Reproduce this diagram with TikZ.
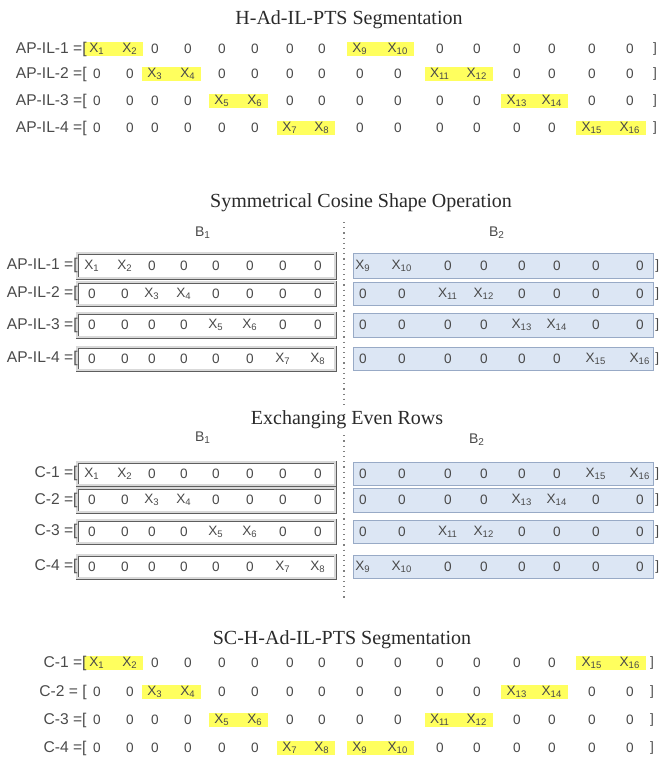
\documentclass[tikz,border=0pt]{standalone}
\usepackage{fontspec}
\setmainfont{Liberation Serif}
\setsansfont{Liberation Sans}
\usetikzlibrary{fit,backgrounds}
\definecolor{txtgray}{HTML}{4A4A4A}
\definecolor{ttlgray}{HTML}{2A2A2A}
\definecolor{hlyellow}{HTML}{FFFF5E}
\definecolor{boxgray}{HTML}{5E5E5E}
\definecolor{bluefill}{HTML}{DCE6F4}
\definecolor{blueline}{HTML}{98AAC6}
\tikzstyle{cell} = [font=\sffamily\fontsize{6.8}{8}\selectfont, text=txtgray, inner sep=0pt]
\tikzstyle{rowlbl} = [font=\sffamily\fontsize{7.8}{9}\selectfont, text=txtgray, inner sep=0pt, anchor=east]
\tikzstyle{ttl} = [font=\fontsize{10}{12}\selectfont, text=ttlgray, inner sep=1.5pt]
\tikzstyle{blk} = [font=\sffamily\fontsize{7}{8}\selectfont, text=txtgray, inner sep=0pt]
\tikzstyle{hlbar} = [fill=hlyellow, inner xsep=2.5pt, inner ysep=0.6pt]
\tikzstyle{lbox} = [draw=boxgray, line width=0.45pt, double=white!70!gray, double distance=0.6pt]
\tikzstyle{rbox} = [draw=blueline, line width=0.5pt, fill=bluefill]
\tikzstyle{divider} = [draw=gray, dotted, line width=0.6pt]
% column positions (px of the page)
\def\colsA{{97,130,155,188,222,255,290,322,360,398,440,477,517,552,592,630}}
\def\colsB{{92,125,152,184,216,250,283,318,363,402,448,484,522,557,596,640}}
\newcommand{\cellval}[1]{\ifnum#1=0 0\else X\textsubscript{#1}\fi}
\newcommand{\segrow}[4]{%
  \foreach \v [count=\c] in {#4} {
    \pgfmathsetmacro{\cx}{#3[\c-1]}
    \node[cell] (#1-\c) at (\cx,#2) {\cellval{\v}};
  }}
\newcommand{\hlpair}[2]{%
  \pgfmathtruncatemacro{\ca}{2*#2-1}
  \pgfmathtruncatemacro{\cb}{2*#2}
  \node[hlbar, fit=(#1-\ca)(#1-\cb)] (#1-h#2) {};}

\begin{document}
\begin{tikzpicture}[x=0.5pt, y=-0.5pt]
\useasboundingbox (0,0) rectangle (660,773);

% H-Ad-IL-PTS segmentation
\node[ttl] (t1) at (349,20) {H-Ad-IL-PTS Segmentation};
\node[rowlbl] (a1) at (87,49) {AP-IL-1 =[};
\node[rowlbl] (a2) at (87,74) {AP-IL-2 =[};
\node[rowlbl] (a3) at (87,101) {AP-IL-3 =[};
\node[rowlbl] (a4) at (87,128) {AP-IL-4 =[};
\segrow{s1r1}{49}{\colsA}{1,2,0,0,0,0,0,0,9,10,0,0,0,0,0,0}
\segrow{s1r2}{74}{\colsA}{0,0,3,4,0,0,0,0,0,0,11,12,0,0,0,0}
\segrow{s1r3}{101}{\colsA}{0,0,0,0,5,6,0,0,0,0,0,0,13,14,0,0}
\segrow{s1r4}{128}{\colsA}{0,0,0,0,0,0,7,8,0,0,0,0,0,0,15,16}
\node[cell] (e1) at (655,49) {]};
\node[cell] (e2) at (655,74) {]};
\node[cell] (e3) at (655,101) {]};
\node[cell] (e4) at (655,128) {]};
\begin{scope}[on background layer]
  \hlpair{s1r1}{1} \hlpair{s1r1}{5}
  \hlpair{s1r2}{2} \hlpair{s1r2}{6}
  \hlpair{s1r3}{3} \hlpair{s1r3}{7}
  \hlpair{s1r4}{4} \hlpair{s1r4}{8}
\end{scope}

% divider between B1 and B2
\coordinate (dtop) at (344,222);
\coordinate (dbot) at (344,600);
\draw[divider] (dtop) -- (dbot);

% symmetrical cosine shape
\node[ttl] (t2) at (361,203) {Symmetrical Cosine Shape Operation};
\node[blk] (b1) at (203,233) {B\textsubscript{1}};
\node[blk] (b2) at (497,233) {B\textsubscript{2}};
\draw[lbox] (77,253) rectangle (335,278);
\draw[lbox] (77,282) rectangle (335,305);
\draw[lbox] (77,313) rectangle (335,337);
\draw[lbox] (77,347) rectangle (335,370);
\draw[rbox] (353,253) rectangle (653,278);
\draw[rbox] (353,282) rectangle (653,305);
\draw[rbox] (353,313) rectangle (653,337);
\draw[rbox] (353,347) rectangle (653,370);
\node[rowlbl] (p1) at (78,265.5) {AP-IL-1 =[};
\node[rowlbl] (p2) at (78,293.5) {AP-IL-2 =[};
\node[rowlbl] (p3) at (78,325) {AP-IL-3 =[};
\node[rowlbl] (p4) at (78,358.5) {AP-IL-4 =[};
\segrow{s2r1}{265.5}{\colsB}{1,2,0,0,0,0,0,0,9,10,0,0,0,0,0,0}
\segrow{s2r2}{293.5}{\colsB}{0,0,3,4,0,0,0,0,0,0,11,12,0,0,0,0}
\segrow{s2r3}{325}{\colsB}{0,0,0,0,5,6,0,0,0,0,0,0,13,14,0,0}
\segrow{s2r4}{358.5}{\colsB}{0,0,0,0,0,0,7,8,0,0,0,0,0,0,15,16}
\node[cell, anchor=west] (q1) at (655,265.5) {]};
\node[cell, anchor=west] (q2) at (655,293.5) {]};
\node[cell, anchor=west] (q3) at (655,325) {]};
\node[cell, anchor=west] (q4) at (655,358.5) {]};

% exchanging even rows
\node[ttl, fill=white] (t3) at (347,420) {Exchanging Even Rows};
\node[blk] (b3) at (203,438) {B\textsubscript{1}};
\node[blk] (b4) at (477,440) {B\textsubscript{2}};
\draw[lbox] (77,462) rectangle (335,485);
\draw[lbox] (77,488) rectangle (335,512);
\draw[lbox] (77,520) rectangle (335,543);
\draw[lbox] (77,555) rectangle (335,578);
\draw[rbox] (353,462) rectangle (653,485);
\draw[rbox] (353,488) rectangle (653,512);
\draw[rbox] (353,520) rectangle (653,543);
\draw[rbox] (353,555) rectangle (653,578);
\node[rowlbl] (c1) at (78,473.5) {C-1 =[};
\node[rowlbl] (c2) at (78,500) {C-2 =[};
\node[rowlbl] (c3) at (78,531.5) {C-3 =[};
\node[rowlbl] (c4) at (78,566.5) {C-4 =[};
\segrow{s3r1}{473.5}{\colsB}{1,2,0,0,0,0,0,0,0,0,0,0,0,0,15,16}
\segrow{s3r2}{500}{\colsB}{0,0,3,4,0,0,0,0,0,0,0,0,13,14,0,0}
\segrow{s3r3}{531.5}{\colsB}{0,0,0,0,5,6,0,0,0,0,11,12,0,0,0,0}
\segrow{s3r4}{566.5}{\colsB}{0,0,0,0,0,0,7,8,9,10,0,0,0,0,0,0}
\node[cell, anchor=west] (r1) at (655,473.5) {]};
\node[cell, anchor=west] (r2) at (655,500) {]};
\node[cell, anchor=west] (r3) at (655,531.5) {]};
\node[cell, anchor=west] (r4) at (655,566.5) {]};

% SC-H-Ad-IL-PTS segmentation
\node[ttl] (t4) at (342,640) {SC-H-Ad-IL-PTS Segmentation};
\node[rowlbl] (d1) at (87,663) {C-1 =[};
\node[rowlbl] (d2) at (87,692) {C-2 = [};
\node[rowlbl] (d3) at (87,720) {C-3 =[};
\node[rowlbl] (d4) at (87,748) {C-4 =[};
\segrow{s4r1}{663}{\colsA}{1,2,0,0,0,0,0,0,0,0,0,0,0,0,15,16}
\segrow{s4r2}{692}{\colsA}{0,0,3,4,0,0,0,0,0,0,0,0,13,14,0,0}
\segrow{s4r3}{720}{\colsA}{0,0,0,0,5,6,0,0,0,0,11,12,0,0,0,0}
\segrow{s4r4}{748}{\colsA}{0,0,0,0,0,0,7,8,9,10,0,0,0,0,0,0}
\node[cell] (f1) at (652,663) {]};
\node[cell] (f2) at (652,692) {]};
\node[cell] (f3) at (652,720) {]};
\node[cell] (f4) at (652,748) {]};
\begin{scope}[on background layer]
  \hlpair{s4r1}{1} \hlpair{s4r1}{8}
  \hlpair{s4r2}{2} \hlpair{s4r2}{7}
  \hlpair{s4r3}{3} \hlpair{s4r3}{6}
  \hlpair{s4r4}{4} \hlpair{s4r4}{5}
\end{scope}
\end{tikzpicture}
\end{document}
